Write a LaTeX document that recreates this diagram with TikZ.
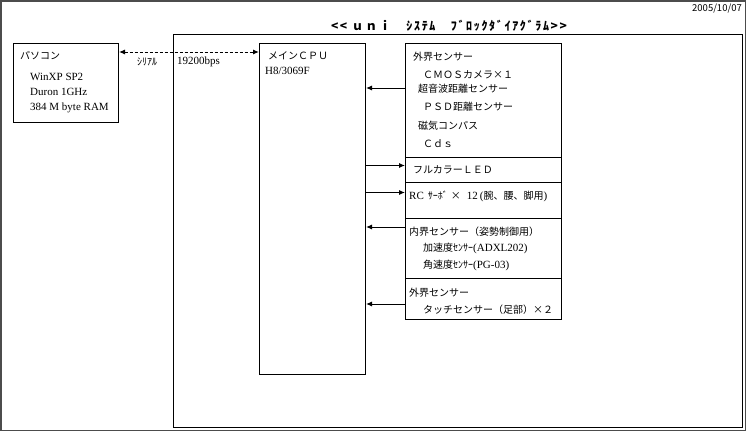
\documentclass[tikz,border=0pt]{standalone}
\usepackage{fontspec}
\setmainfont{Liberation Serif}
\newfontfamily\jp{Noto Sans CJK JP}
\newfontfamily\jpttl{Noto Sans CJK JP}[LetterSpace=14]
\usetikzlibrary{arrows.meta, calc}
\newcommand\latn[1]{{\rmfamily\fontsize{11}{13}\selectfont #1}}

\begin{document}
\begin{tikzpicture}[x=1pt, y=-1pt,
  blk/.style={draw, line width=1pt, anchor=north west, inner sep=0pt},
  lt/.style={anchor=base west, inner sep=0pt, font=\fontsize{11}{13}\selectfont},
  jt/.style={anchor=base west, inner sep=0pt, font=\jp\fontsize{10}{12}\selectfont},
  arr/.style={-{Latex[length=6pt,width=5pt]}, line width=1pt},
  link/.style={{Latex[length=6pt,width=5pt]}-{Latex[length=6pt,width=5pt]},
               line width=1pt, dash pattern=on 3pt off 2pt}]
  \useasboundingbox (0,0) rectangle (746,431);
  \draw[black!70, line width=1.5pt] (0.75,0.75) rectangle (745.25,430.25);

  \node[jt, anchor=base east, font=\jp\fontsize{9.5}{11}\selectfont] (date) at (742,12) {2005/10/07};
  \node[anchor=base, inner sep=0pt, font=\jpttl\bfseries\fontsize{12}{14}\selectfont] (title) at (449,30.5)
     {<< ｕｎｉ　ｼｽﾃﾑ　ﾌﾞﾛｯｸﾀﾞｲｱｸﾞﾗﾑ>>};

  \node[blk, minimum width=569pt, minimum height=393pt] (sys) at (173,34) {};
  \node[blk, minimum width=105pt, minimum height=79pt] (pc) at (13,43) {};
  \node[blk, minimum width=106pt, minimum height=331pt] (cpu) at (259,43) {};
  \node[blk, minimum width=156pt, minimum height=114pt] (sens) at (405,43) {};
  \node[blk, minimum width=156pt, minimum height=25pt] (led) at (405,157) {};
  \node[blk, minimum width=156pt, minimum height=36pt] (rc) at (405,182) {};
  \node[blk, minimum width=156pt, minimum height=60pt] (ins) at (405,218) {};
  \node[blk, minimum width=156pt, minimum height=41pt] (touch) at (405,278) {};

  \node[jt] (pc1) at (20,59) {パソコン};
  \node[lt] (pc2) at (30,80) {WinXP SP2};
  \node[lt] (pc3) at (30,95) {Duron 1GHz};
  \node[lt] (pc4) at (30,110.5) {384 M byte RAM};
  \node[jt] (ser) at (137,65) {ｼﾘｱﾙ};
  \node[lt] (bps) at (177,64) {19200bps};

  \node[jt] (cpu1) at (268,59) {メインＣＰＵ};
  \node[lt] (cpu2) at (265,74) {H8/3069F};

  \node[jt] (s1) at (413,60) {外界センサー};
  \node[jt] (s2) at (423,78) {ＣＭＯＳカメラ×１};
  \node[jt] (s3) at (418,92) {超音波距離センサー};
  \node[jt] (s4) at (423,110) {ＰＳＤ距離センサー};
  \node[jt] (s5) at (418,129) {磁気コンパス};
  \node[jt] (s6) at (423,147) {Ｃｄｓ};
  \node[jt] (led1) at (413,173) {フルカラーＬＥＤ};
  \node[jt] (rc1) at (409,199)
     {\latn{RC}\hspace{4pt}ｻｰﾎﾞ\hspace{3pt}×\hspace{6pt}\latn{12}\hspace{2pt}\latn{(}腕、腰、脚用\latn{)}};
  \node[jt] (in1) at (409,235) {内界センサー（姿勢制御用）};
  \node[jt] (in2) at (423,251) {加速度ｾﾝｻｰ\latn{(ADXL202)}};
  \node[jt] (in3) at (423,268) {角速度ｾﾝｻｰ\latn{(PG-03)}};
  \node[jt] (t1) at (409,296) {外界センサー};
  \node[jt] (t2) at (423,313) {タッチセンサー（足部）×２};

  \draw[link] ($(pc.north east)+(0,9)$) coordinate (l0) -- (l0 -| cpu.west);
  \coordinate (a1) at ($(sens.north west)+(0,45)$);
  \coordinate (a2) at ($(led.west)+(0,-4.5)$);
  \coordinate (a3) at ($(rc.west)+(0,-8)$);
  \coordinate (a4) at ($(ins.north west)+(0,9)$);
  \coordinate (a5) at ($(touch.north west)+(0,26)$);
  \draw[arr] (a1) -- (a1 -| cpu.east);
  \draw[arr] (a2 -| cpu.east) -- (a2);
  \draw[arr] (a3 -| cpu.east) -- (a3);
  \draw[arr] (a4) -- (a4 -| cpu.east);
  \draw[arr] (a5) -- (a5 -| cpu.east);
\end{tikzpicture}
\end{document}
